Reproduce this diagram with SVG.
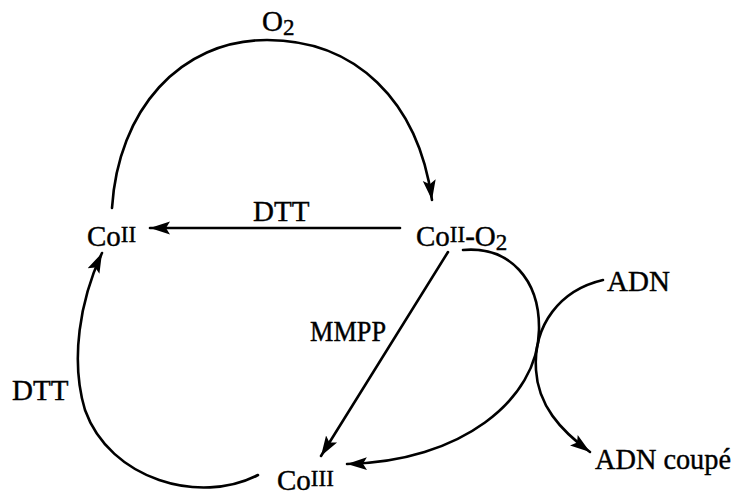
<svg xmlns="http://www.w3.org/2000/svg" width="735" height="496" viewBox="0 0 735 496">
  <style>
    text { font-family: "Liberation Serif", "Times New Roman", serif; font-size: 29px; fill: #000; stroke: #000; stroke-width: 0.4; }
    .sup { font-size: 23px; }
    .sub { font-size: 23px; }
    .edge { fill: none; stroke: #000; stroke-width: 2.6; stroke-linecap: round; }
  </style>
  <defs>
    <marker id="ah" markerWidth="22" markerHeight="16" refX="20" refY="8" orient="auto" markerUnits="userSpaceOnUse">
      <path d="M0,1.5 L20,8 L0,14.5 L4,8 Z" fill="#000"/>
    </marker>
  </defs>
  <rect width="735" height="496" fill="#fff"/>

  <g id="connectors">
    <path class="edge" d="M112,208 C118,110 180,40 267,40 C355,40 418,100 432,200" marker-end="url(#ah)"/>
    <path class="edge" d="M400,228 L150,228" marker-end="url(#ah)"/>
    <path class="edge" d="M448,252 L321,456" marker-end="url(#ah)"/>
    <path class="edge" d="M463,250 C510,246 540,280 539,330 C538,400 460,462 347,464" marker-end="url(#ah)"/>
    <path class="edge" d="M603,280 C560,290 533,325 536,370 C538,405 560,430 590,452" marker-end="url(#ah)"/>
    <path class="edge" d="M258,475 C200,505 110,480 85,410 C70,360 80,300 102,253" marker-end="url(#ah)"/>
  </g>

  <g id="label-o2"><text x="262" y="31">O<tspan class="sub" dy="4">2</tspan></text></g>
  <g id="label-dtt-top"><text x="253" y="221">DTT</text></g>
  <g id="label-mmpp"><text x="310" y="341" textLength="76" lengthAdjust="spacingAndGlyphs">MMPP</text></g>
  <g id="label-dtt-left"><text x="12" y="400">DTT</text></g>

  <g id="node-coII"><text x="87" y="246">Co<tspan class="sup" dy="-4">II</tspan></text></g>
  <g id="node-coII-o2"><text x="416" y="246">Co<tspan class="sup" dy="-4">II</tspan><tspan dy="4">-O</tspan><tspan class="sub" dy="4">2</tspan></text></g>
  <g id="node-coIII"><text x="277" y="490">Co<tspan class="sup" dy="-4">III</tspan></text></g>
  <g id="node-adn"><text x="607" y="291">ADN</text></g>
  <g id="node-adn-coupe"><text x="595" y="469" textLength="136" lengthAdjust="spacingAndGlyphs">ADN coupé</text></g>
</svg>
